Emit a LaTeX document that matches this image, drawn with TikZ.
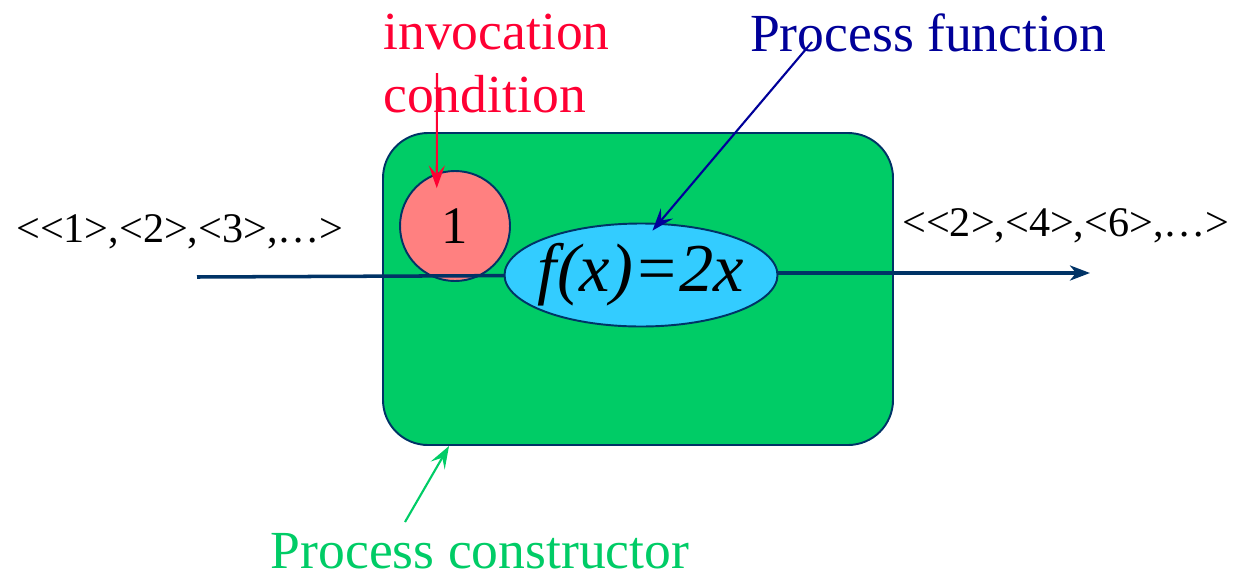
\documentclass[tikz,border=0pt]{standalone}
\usepackage{fontspec}
\setmainfont{Liberation Serif}
\usepackage{tikz}
\usepackage{xcolor}
\usetikzlibrary{arrows.meta, positioning, shapes.geometric}
\definecolor{colCtor}{RGB}{0,204,102}
\definecolor{colCond}{RGB}{255,128,128}
\definecolor{colFun}{RGB}{51,204,255}
\definecolor{colEdge}{RGB}{0,51,102}
\definecolor{colRed}{RGB}{255,0,51}
\definecolor{colBlue}{RGB}{0,0,153}

\begin{document}
\begin{tikzpicture}[
  seq/.style={line width=2pt, colEdge},
  arr/.style={-{Stealth[length=0.45cm, width=0.32cm, inset=0.18cm]}, line width=1.2pt},
  lbl/.style={inner sep=0pt, font=\fontsize{30.5}{36}\selectfont},
  seqtxt/.style={inner sep=0pt, font=\fontsize{24}{27}\selectfont},
]
\useasboundingbox (0,0) rectangle (24.72,-11.6);

% Constructor box with condition and function
\node[draw=colEdge, line width=1.1pt, fill=colCtor, rounded corners=0.9cm,
      minimum width=10.2cm, minimum height=6.24cm] (ctor) at (12.76,-5.78) {};
\node[draw=colEdge, line width=1.1pt, fill=colCond, circle, minimum size=2.2cm,
      inner sep=0pt, font=\fontsize{30}{34}\selectfont] (cond) at (9.1,-4.52) {1};

% Stream in and out
\coordinate (src) at (3.94,-5.54);
\coordinate (dst) at (21.8,-5.46);
\draw[seq] (src) -- (12.82,-5.5);
\draw[seq, -{Stealth[length=0.4cm, width=0.3cm, inset=0.12cm]}] (12.82,-5.46) -- (dst);

\node[draw=colEdge, line width=1.1pt, fill=colFun, ellipse, minimum width=5.46cm,
      minimum height=2.06cm, inner sep=0pt, font=\fontsize{39}{42}\selectfont]
      (fun) at (12.82,-5.5) {\makebox[0pt]{\textit{f(x)=2x}}};

\node[seqtxt] (inseq) at (3.6,-4.64) {<{}<1>,<2>,<3>,\dots>};
\node[seqtxt] (outseq) at (21.32,-4.52) {<{}<2>,<4>,<6>,\dots>};

% Labels
\node[lbl, colRed, align=left, anchor=west] (condlbl) at (7.66,-1.27) {invocation\\condition};
\node[lbl, colBlue] (funlbl) at (18.56,-0.66) {Process function};
\node[lbl, colCtor, anchor=base] (ctorlbl) at (9.6,-11.36) {Process constructor};

\coordinate (condtail) at (8.74,-1.46);
\coordinate (funtail) at (16.24,-0.84);
\coordinate (ctortail) at (8.1,-10.44);
\draw[arr, colRed, shorten >=-0.3cm] (condtail) -- (cond.109);
\draw[arr, colBlue, shorten >=-0.2cm] (funtail) -- (fun.71);
\draw[arr, colCtor] (ctortail) -- ([xshift=1.34cm]ctor.south west);

\end{tikzpicture}
\end{document}
